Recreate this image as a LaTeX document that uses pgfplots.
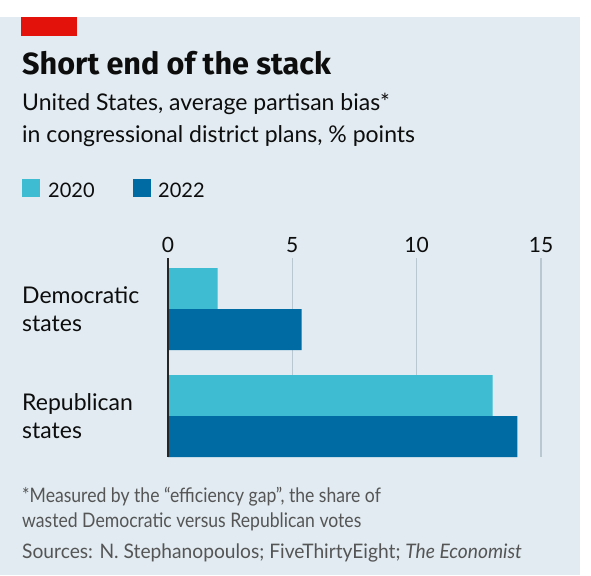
\documentclass[border=0pt]{standalone}
\usepackage{pgfplots}
\pgfplotsset{compat=1.18}
\usepackage{fontspec}
\setmainfont{Lato}
\newfontfamily\titlefont{Fira Sans}
\newfontfamily\footfont[FakeStretch=0.88]{Lato}
\newfontfamily\srcfont[FakeStretch=0.96]{Lato}
\definecolor{bg}{HTML}{E1EBF1}
\definecolor{ered}{HTML}{E3120B}
\definecolor{light}{HTML}{3EBCD2}
\definecolor{dark}{HTML}{006BA2}
\definecolor{gridc}{HTML}{B9C7D0}
\definecolor{txt}{HTML}{0D0D0D}
\definecolor{foot}{HTML}{555555}
\begin{document}
\begin{tikzpicture}
\useasboundingbox (0,0) rectangle (591bp,-576bp);
\fill[white] (0,0) rectangle (591bp,-576bp);
\fill[bg] (0,-17bp) rectangle (580bp,-575bp);
\fill[ered] (21bp,-17bp) rectangle (77bp,-36bp);
\node[anchor=base west, inner sep=0, text=txt, font=\titlefont\fontsize{30.6bp}{32bp}\selectfont\bfseries] at (22bp,-74bp) {Short end of the stack};
\node[anchor=base west, inner sep=0, text=txt, font=\fontsize{23bp}{26bp}\selectfont] at (22bp,-110bp) {United States, average partisan bias*};
\node[anchor=base west, inner sep=0, text=txt, font=\fontsize{23bp}{26bp}\selectfont] at (22bp,-142bp) {in congressional district plans, \% points};
\fill[light] (22bp,-179bp) rectangle (40bp,-197bp);
\node[anchor=base west, inner sep=0, text=txt, font=\fontsize{20bp}{24bp}\selectfont] at (48bp,-197bp) {2020};
\fill[dark] (133bp,-179bp) rectangle (151bp,-197bp);
\node[anchor=base west, inner sep=0, text=txt, font=\fontsize{20bp}{24bp}\selectfont] at (158bp,-197bp) {2022};
\begin{axis}[
  at={(168bp,-258bp)}, anchor=north west,
  width=373bp, height=199bp, scale only axis,
  xmin=0, xmax=15, ymin=-0.477, ymax=1.383,
  y dir=reverse,
  axis line style={draw=none},
  tick style={draw=none},
  xtick={0,5,10,15},
  xticklabel pos=upper,
  xmajorgrids, major grid style={gridc, line width=1.5bp},
  /pgf/number format/assume math mode=true,
  xticklabel style={anchor=base, yshift=6bp, inner sep=0, text=txt, font=\fontsize{21bp}{24bp}\selectfont},
  ytick={0,1},
  yticklabels={{Democratic\\states},{Republican\\states}},
  yticklabel style={anchor=west, xshift=-146bp, inner sep=0, align=left, text=txt, font=\fontsize{23bp}{28bp}\selectfont},
  bar width=0.383,
  clip=false,
]
\addplot[xbar, fill=light, draw=none, bar shift=-0.1915] coordinates {(2.0,0) (13.05,1)};
\addplot[xbar, fill=dark, draw=none, bar shift=0.1915] coordinates {(5.37,0) (14.05,1)};
\draw[line width=2.5bp, black!85] (axis cs:0,-0.477) -- (axis cs:0,1.383);
\end{axis}
\node[anchor=base west, inner sep=0, text=foot, font=\footfont\fontsize{20bp}{22bp}\selectfont] at (22bp,-502bp) {*Measured by the “efficiency gap”, the share of};
\node[anchor=base west, inner sep=0, text=foot, font=\footfont\fontsize{20bp}{22bp}\selectfont] at (22bp,-527bp) {wasted Democratic versus Republican votes};
\node[anchor=base west, inner sep=0, text=foot, font=\srcfont\fontsize{20bp}{22bp}\selectfont] at (22bp,-558bp) {Sources: N. Stephanopoulos; FiveThirtyEight; \textit{The Economist}};
\end{tikzpicture}
\end{document}
